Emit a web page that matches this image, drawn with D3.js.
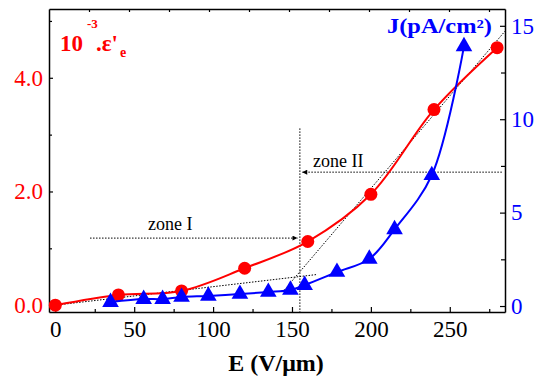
<!DOCTYPE html>
<html>
<head>
<meta charset="utf-8">
<script src="https://cdn.jsdelivr.net/npm/d3@7"></script>
<style>
  body { margin: 0; background: #fff; }
  svg text { font-family: "Liberation Serif", "Times New Roman", serif; }
</style>
</head>
<body>
<svg id="chart" width="544" height="376"></svg>
<script>
// permittivity (red circles, left axis)
var epsField = [0, 40, 80, 120, 160, 200, 240, 280];
var epsValue = [0, 0.18, 0.25, 0.65, 1.12, 1.95, 3.44, 4.53];

// current density (blue triangles, right axis)
var jField = [35, 56, 68, 80, 97, 117, 135, 149, 158, 178.5, 199, 215, 238.6, 259];
var jValue = [0.21, 0.37, 0.37, 0.48, 0.54, 0.64, 0.75, 0.86, 1.12, 1.82, 2.52, 4.1, 7.0, 13.9];

// axis ticks
var xTicks = [0, 50, 100, 150, 200, 250];
var xMinor = [25, 75, 125, 175, 225, 275];
var topTicks = [25, 50, 75, 100, 125, 150, 175, 200, 225, 250, 275];
var yLeftTicks = [0, 2, 4];
var yLeftMinor = [1, 3, 5];
var yRightTicks = [0, 5, 10, 15];
var yRightMinor = [2.5, 7.5, 12.5];

// guide lines (E, eps)
var tangentLow = [[0, 0], [166, 0.54]];
var tangentHigh = [[144, 0.23], [285, 4.82]];
var zoneEdge = [[155, 3.11], [155, -0.12]];
var zoneIArrow = [[22, 1.18], [153.5, 1.18]];
var zoneIIArrow = [[283, 2.34], [156.5, 2.34]];

var serif = '"Liberation Serif", "Times New Roman", Times, serif';
var padL = 49, padR = 505, padT = 9, padB = 312;
var svg = d3.select('#chart');

var x = d3.scaleLinear().domain([-4, 285]).range([padL, padR]);
var xTop = d3.scaleLinear().domain([0, 285]).range([padL, padR]);
var yL = d3.scaleLinear().domain([-0.12, 5.21]).range([padB, padT]);
var yR = d3.scaleLinear().domain([-0.32, 15.9]).range([padB, padT]);

svg.append('defs').append('marker')
  .attr('id', 'arrow')
  .attr('viewBox', '0 0 10 10')
  .attr('refX', 10).attr('refY', 5)
  .attr('markerWidth', 7).attr('markerHeight', 5)
  .attr('markerUnits', 'userSpaceOnUse')
  .attr('orient', 'auto')
  .append('path').attr('d', 'M0,0L10,5L0,10Z').attr('fill', '#000');

function styleAxis(g, color) {
  g.attr('font-family', serif).attr('font-size', 23);
  g.select('.domain').attr('stroke', '#000').attr('stroke-width', 1.5);
  g.selectAll('.tick line').attr('stroke', '#000').attr('stroke-width', 1.2);
  g.selectAll('.tick text').attr('fill', color)
    .style('font-size', '23px').style('font-family', serif);
}

// bottom
var gx = svg.append('g').attr('transform', 'translate(0,' + padB + ')')
  .call(d3.axisBottom(x).tickValues(xTicks).tickSize(-5).tickSizeOuter(0).tickPadding(9));
styleAxis(gx, '#000');
var gxm = svg.append('g').attr('transform', 'translate(0,' + padB + ')')
  .call(d3.axisBottom(x).tickValues(xMinor).tickSize(-3).tickSizeOuter(0).tickFormat(''));
styleAxis(gxm, '#000');
gxm.select('.domain').remove();

// top
var gt = svg.append('g').attr('transform', 'translate(0,' + padT + ')')
  .call(d3.axisTop(xTop).tickValues(topTicks).tickSize(-3).tickSizeOuter(0).tickFormat(''));
styleAxis(gt, '#000');

// left
var gl = svg.append('g').attr('transform', 'translate(' + padL + ',0)')
  .call(d3.axisLeft(yL).tickValues(yLeftTicks).tickFormat(d3.format('.1f')).tickSize(-4).tickSizeOuter(0).tickPadding(6));
styleAxis(gl, '#ff0000');
var glm = svg.append('g').attr('transform', 'translate(' + padL + ',0)')
  .call(d3.axisLeft(yL).tickValues(yLeftMinor).tickSize(-3).tickSizeOuter(0).tickFormat(''));
styleAxis(glm, '#000');
glm.select('.domain').remove();

// right
var gr = svg.append('g').attr('transform', 'translate(' + padR + ',0)')
  .call(d3.axisRight(yR).tickValues(yRightTicks).tickSize(-5).tickSizeOuter(0).tickPadding(6));
styleAxis(gr, '#0000ff');
var grm = svg.append('g').attr('transform', 'translate(' + padR + ',0)')
  .call(d3.axisRight(yR).tickValues(yRightMinor).tickSize(-4).tickSizeOuter(0).tickFormat(''));
styleAxis(grm, '#000');
grm.select('.domain').remove();

// dotted guides
var guide = d3.line().x(function(d){ return x(d[0]); }).y(function(d){ return yL(d[1]); });
[tangentLow, tangentHigh, zoneEdge].forEach(function(p){
  svg.append('path').attr('d', guide(p)).attr('fill', 'none')
    .attr('stroke', '#000').attr('stroke-width', 1).attr('stroke-dasharray', '1.5,1.5');
});
[zoneIArrow, zoneIIArrow].forEach(function(p){
  svg.append('path').attr('d', guide(p)).attr('fill', 'none')
    .attr('stroke', '#000').attr('stroke-width', 1).attr('stroke-dasharray', '1.5,1.5')
    .attr('marker-end', 'url(#arrow)');
});

// red curve + circles
var epsData = epsField.map(function(e, i){ return [e, epsValue[i]]; });
var redLine = d3.line().curve(d3.curveCatmullRom.alpha(0.5))
  .x(function(d){ return x(d[0]); }).y(function(d){ return yL(d[1]); });
svg.append('path').attr('d', redLine(epsData)).attr('fill', 'none')
  .attr('stroke', '#ff0000').attr('stroke-width', 2);
svg.selectAll('circle.eps').data(epsData).enter().append('circle')
  .attr('class', 'eps')
  .attr('cx', function(d){ return x(d[0]); })
  .attr('cy', function(d){ return yL(d[1]); })
  .attr('r', 6.5).attr('fill', '#ff0000');

// blue curve + triangles
var jData = jField.map(function(e, i){ return [e, jValue[i]]; });
var blueLine = d3.line().curve(d3.curveCatmullRom.alpha(0.5))
  .x(function(d){ return x(d[0]); }).y(function(d){ return yR(d[1]); });
svg.append('path').attr('d', blueLine(jData)).attr('fill', 'none')
  .attr('stroke', '#0000ff').attr('stroke-width', 2);
var tri = d3.symbol().type(d3.symbolTriangle).size(120);
svg.selectAll('path.j').data(jData).enter().append('path')
  .attr('class', 'j')
  .attr('d', tri)
  .attr('transform', function(d){ return 'translate(' + x(d[0]) + ',' + yR(d[1]) + ')'; })
  .attr('fill', '#0000ff');

// texts
svg.append('text').attr('x', 148).attr('y', 230).style('font-size', '18px').text('zone I');
svg.append('text').attr('x', 313).attr('y', 167).style('font-size', '18px').text('zone II');

var eps = svg.append('g').attr('fill', '#ff0000').style('font-weight', 'bold');
eps.append('text').attr('x', 60).attr('y', 51).style('font-size', '23px').text('10');
eps.append('text').attr('x', 87).attr('y', 28).style('font-size', '13px').text('-3');
eps.append('text').attr('x', 96).attr('y', 51).style('font-size', '23px').text(".ε'");
eps.append('text').attr('x', 120).attr('y', 57).style('font-size', '14px').text('e');

svg.append('text').attr('x', 387).attr('y', 33)
  .attr('fill', '#0000ff').style('font-weight', 'bold').style('font-size', '20px')
  .attr('textLength', 105).attr('lengthAdjust', 'spacingAndGlyphs')
  .text('J(pA/cm²)');

svg.append('text').attr('x', 276).attr('y', 371)
  .attr('text-anchor', 'middle').style('font-weight', 'bold').style('font-size', '24px')
  .text('E (V/μm)');
</script>
</body>
</html>
